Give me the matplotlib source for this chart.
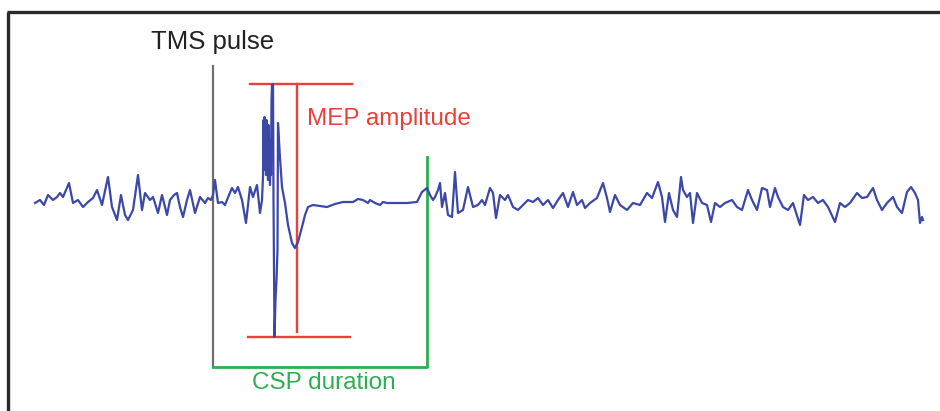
import matplotlib
matplotlib.use("Agg")
import matplotlib.pyplot as plt

# EMG trace (x, y in picture pixels, y grows downward)
trace_x = [35, 40, 44, 48, 53, 57, 60, 63, 66, 69, 73, 78, 83, 88, 93, 97, 102, 108,
           112, 117, 121, 125, 128, 133, 138, 142, 145, 150, 153, 158, 162, 167, 170,
           174, 177, 180, 183, 187, 190, 195, 200, 205, 208, 211,
           213, 215, 218, 222, 225, 229, 232, 235, 238, 242, 246, 250, 253, 257, 260,
           262, 263, 263.5, 264, 264.5, 265, 265.5, 266, 266.5, 267, 267.5, 268, 268.5,
           269, 269.5, 270, 270.5, 271, 271.5, 272, 273, 273.5, 274.5, 275.5, 276.5,
           277.5, 278, 280, 282, 285, 288, 292, 295, 298, 302, 305, 308, 313, 320, 327,
           335, 343, 353, 358, 363, 368, 370, 375, 380, 383, 387, 395, 407, 417, 422,
           427, 430, 433,
           435, 438, 440, 442, 445, 448, 452, 455, 458, 463, 468, 473, 478, 482, 485,
           490, 493, 496, 500, 505, 508, 513, 518, 523, 528, 533, 538, 543, 548, 553,
           558, 563, 568, 573, 577, 582, 585, 590, 597, 603, 607, 610, 615, 620, 627,
           633, 640, 647, 652, 658, 662, 665, 669,
           673, 677, 681, 683, 687, 690, 693, 697, 702, 707, 711, 715, 720, 725, 732,
           737, 742, 748, 752, 757, 762, 767, 770, 775, 778, 783, 788, 793, 800, 804,
           808, 813, 818, 823, 828, 835, 840, 845, 850, 857, 862, 867, 873, 877, 882,
           887, 893, 897, 902, 907, 911, 915, 918, 920, 922, 923]
trace_y = [203, 200, 205, 195, 200, 197, 193, 197, 190, 183, 203, 200, 207, 202, 198, 190, 205, 177,
           207, 220, 195, 215, 220, 210, 175, 210, 193, 200, 197, 213, 195, 215, 200,
           195, 193, 207, 217, 200, 190, 213, 197, 203, 198, 200,
           195, 180, 203, 202, 205, 195, 188, 193, 187, 200, 223, 187, 197, 185, 213,
           200, 177, 120, 170, 117, 165, 125, 175, 120, 160, 130, 180, 125,
           170, 150, 185, 140, 175, 100, 85, 84, 200, 337, 300, 280,
           250, 123, 158, 187, 203, 225, 243, 248, 242, 227, 215, 207, 205, 206, 207,
           204, 202, 202, 199, 200, 203, 200, 203, 205, 202, 203, 203, 203, 202, 192,
           188, 195, 200,
           197, 190, 183, 207, 193, 215, 217, 172, 213, 210, 187, 207, 205, 200, 205,
           188, 193, 218, 195, 200, 195, 207, 210, 205, 200, 202, 198, 205, 200, 208,
           200, 193, 207, 192, 205, 200, 208, 203, 198, 183, 198, 212, 195, 205, 210,
           203, 205, 193, 198, 182, 197, 222, 193,
           210, 217, 177, 190, 197, 193, 223, 193, 203, 205, 222, 203, 207, 203, 200,
           207, 210, 190, 200, 210, 188, 190, 207, 188, 197, 207, 210, 203, 225, 195,
           200, 197, 203, 200, 207, 222, 203, 207, 203, 193, 198, 197, 188, 200, 210,
           203, 197, 207, 213, 192, 187, 193, 200, 223, 217, 220]

# annotation geometry (picture pixels)
tms_x = 213
csp_end_x = 427
csp_y = 367
mep_top, mep_bottom = 84, 337
mep_x = 297

fig = plt.figure(figsize=(9.4, 4.11), dpi=100)
ax = fig.add_axes([0, 0, 1, 1])
ax.set_xlim(0, 940)
ax.set_ylim(411, 0)
ax.axis("off")

# frame (top and left only)
ax.plot([7, 940], [12.5, 12.5], color="#2a2a2a", lw=2.4, solid_capstyle="butt")
ax.plot([8, 8], [12, 411], color="#2a2a2a", lw=2.4, solid_capstyle="butt")

red = "#ea3f3a"
green = "#2bb04f"
font = "Liberation Sans"

# TMS pulse marker
ax.plot([tms_x, tms_x], [66, csp_y], color="#6e6e6e", lw=1.6)
ax.text(151, 42, "TMS pulse", fontsize=18.5, color="#222222", family=font,
        ha="left", va="center")

# MEP amplitude
ax.plot([250, 352], [mep_top, mep_top], color=red, lw=1.7)
ax.plot([248, 350], [mep_bottom, mep_bottom], color=red, lw=1.7)
ax.plot([mep_x, mep_x], [mep_top, 332], color=red, lw=1.7)
ax.text(307, 119, "MEP amplitude", fontsize=17.5, color=red, family=font,
        ha="left", va="center")

# CSP duration
ax.plot([tms_x, csp_end_x, csp_end_x], [csp_y, csp_y, 157], color=green, lw=2.0)
ax.text(252, 383, "CSP duration", fontsize=17.5, color=green, family=font,
        ha="left", va="center")

ax.plot(trace_x, trace_y, color="#3c48a8", lw=1.6, solid_joinstyle="round")

fig.savefig("out.png", dpi=100)
